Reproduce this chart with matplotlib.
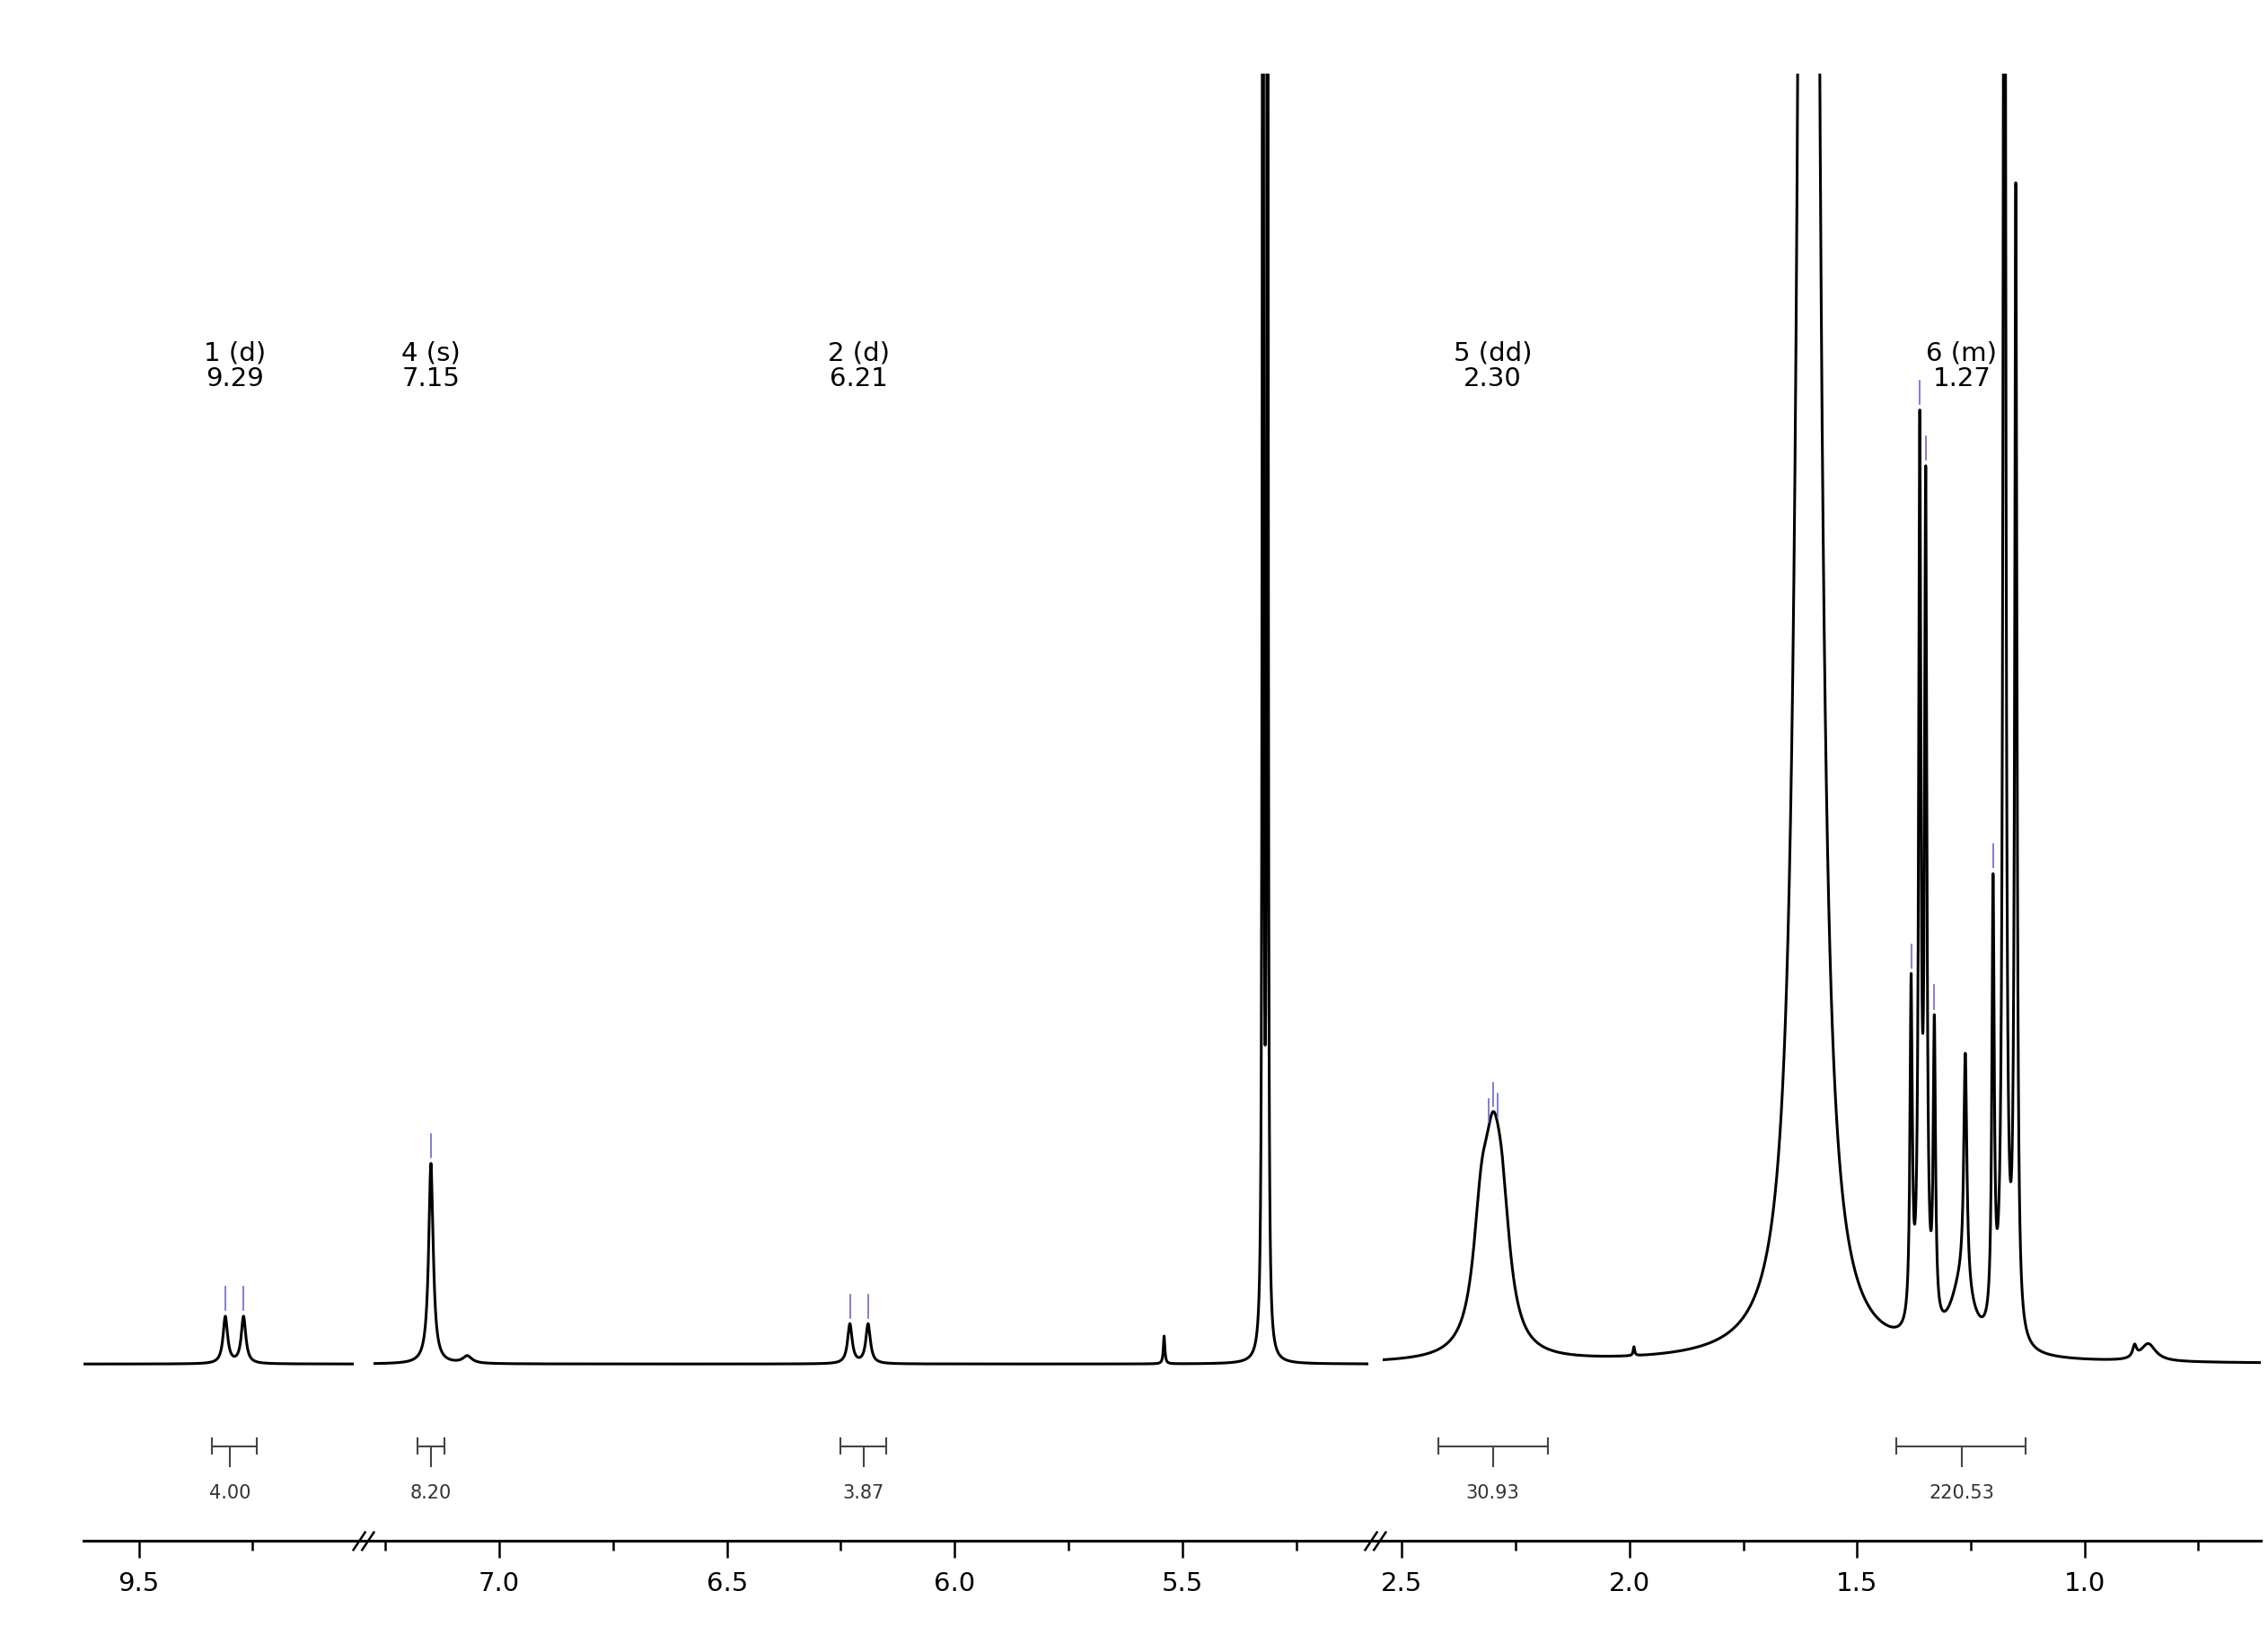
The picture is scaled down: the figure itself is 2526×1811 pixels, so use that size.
import numpy as np
import matplotlib.pyplot as plt

# peak table: ppm, height (baseline units), half width (ppm)
seg1_peaks = [(9.31, 32, 0.006), (9.27, 32, 0.006)]
seg2_peaks = [(7.15, 137, 0.006), (7.07, 5, 0.012), (6.23, 27, 0.006), (6.19, 27, 0.006),
              (5.54, 19, 0.002), (5.323, 2000, 0.0012), (5.313, 2000, 0.0012)]
seg3_peaks = [(2.325, 80, 0.022), (2.30, 95, 0.022), (2.28, 75, 0.022), (1.99, 6, 0.002),
              (1.606, 4500, 0.012), (1.381, 230, 0.003), (1.362, 600, 0.003), (1.349, 560, 0.003),
              (1.330, 200, 0.003), (1.262, 160, 0.004), (1.27, 45, 0.03), (1.201, 300, 0.003),
              (1.176, 1400, 0.003), (1.151, 780, 0.003), (0.86, 12, 0.02), (0.89, 8, 0.005)]

# picked peaks (blue marks)
picks = [9.31, 9.27, 7.15, 6.23, 6.19, 2.30, 2.31, 2.29, 1.381, 1.362, 1.349, 1.330, 1.201, 1.176]

# multiplet labels: ppm, label
labels = [(9.29, "1 (d)\n9.29"), (7.15, "4 (s)\n7.15"), (6.21, "2 (d)\n6.21"),
          (2.30, "5 (dd)\n2.30"), (1.27, "6 (m)\n1.27")]

# integrals: start, end, center, value
integrals = [(9.34, 9.24, 9.30, "4.00"), (7.18, 7.12, 7.15, "8.20"), (6.25, 6.15, 6.20, "3.87"),
             (2.42, 2.18, 2.30, "30.93"), (1.413, 1.13, 1.27, "220.53")]

segments = [(9.622, 9.027, seg1_peaks), (7.277, 5.092, seg2_peaks), (2.542, 0.613, seg3_peaks)]
seg_px = [(57, 242), (255, 935), (945, 1545)]

W, H = 1550, 1111
fig = plt.figure(figsize=(25.26, 18.11), dpi=100)
bottom = 1 - 1053 / H
height = (1053 - 50) / H

def spectrum(x, peaks):
    y = np.zeros_like(x)
    for c, h, g in peaks:
        y += h / (1 + ((x - c) / g) ** 2)
    return y

axes = []
for (lo, hi, peaks), (p0, p1) in zip(segments, seg_px):
    ax = fig.add_axes([p0 / W, bottom, (p1 - p0) / W, height])
    x = np.linspace(hi, lo, 12000)
    ax.plot(x, spectrum(x, peaks), color="black", lw=2.2)
    ax.set_xlim(lo, hi)
    ax.set_ylim(-121, 882)
    for s in ["top", "left", "right"]:
        ax.spines[s].set_visible(False)
    ax.spines["bottom"].set_linewidth(2.2)
    ax.set_yticks([])
    start = np.ceil(hi / 0.25) * 0.25
    ticks = np.arange(start, lo, 0.25)
    ax.set_xticks([t for t in ticks if abs(t * 2 - round(t * 2)) < 1e-6])
    ax.set_xticks([t for t in ticks if abs(t * 2 - round(t * 2)) > 1e-6], minor=True)
    ax.set_xticklabels([f"{t:.1f}" for t in ax.get_xticks()])
    ax.tick_params(axis="x", which="major", direction="out", length=14, width=1.8,
                   labelsize=21, pad=10)
    ax.tick_params(axis="x", which="minor", direction="out", length=8, width=1.8)
    for p in picks:
        if hi <= p <= lo:
            yp = spectrum(np.array([p]), peaks)[0]
            if yp < 860:
                ax.plot([p, p], [yp + 4, yp + 20], color="#6a6ad0", lw=1.2)
    for c, txt in labels:
        if hi <= c <= lo:
            ax.text(c, 682, txt, ha="center", va="center", fontsize=21, linespacing=1.0)
    for a, b, c, v in integrals:
        if hi <= c <= lo:
            ax.plot([a, b], [-56, -56], color="#444444", lw=1.5)
            for e in (a, b):
                ax.plot([e, e], [-51, -61], color="#444444", lw=1.5)
            ax.plot([c, c], [-56, -70], color="#444444", lw=1.5)
            ax.text(c, -88, v, ha="center", va="center", fontsize=15, color="#333333")
    axes.append(ax)

# axis connectors and break marks
ybase = bottom
for x0, x1 in [(242, 255), (935, 945)]:
    fig.add_artist(plt.Line2D([x0 / W, x1 / W], [ybase, ybase], color="black", lw=2.2))
    for dx in (-3, 3):
        xc = (x0 + x1) / 2 + dx
        fig.add_artist(plt.Line2D([(xc - 4) / W, (xc + 4) / W], [ybase - 6 / H, ybase + 6 / H],
                                  color="black", lw=1.8))

fig.savefig("out.png", dpi=100)
